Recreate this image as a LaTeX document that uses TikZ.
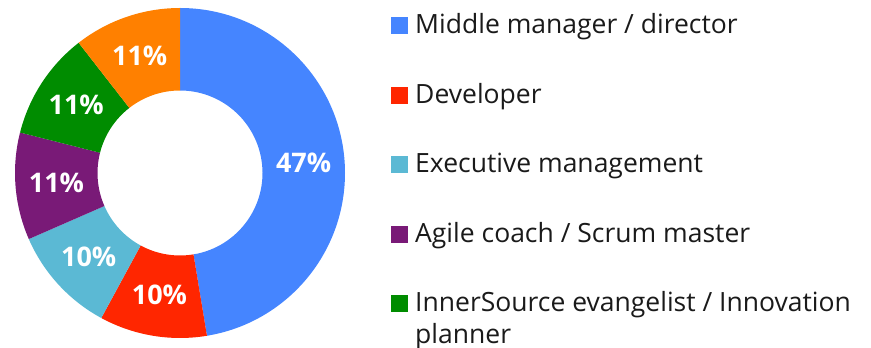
\documentclass[tikz,border=0pt]{standalone}
\usepackage{fontspec}
\setmainfont{Open Sans}
\definecolor{cblue}{HTML}{4585FF}
\definecolor{cred}{HTML}{FF2600}
\definecolor{ccyan}{HTML}{5BB9D4}
\definecolor{cpurple}{HTML}{791A77}
\definecolor{cgreen}{HTML}{008C00}
\definecolor{corange}{HTML}{FF8000}
\definecolor{ctext}{HTML}{1A1A1A}
\begin{document}
\begin{tikzpicture}[x=1pt,y=1pt,
  pct/.style={text=white,font=\fontsize{27}{30}\selectfont\bfseries,inner sep=0pt},
  legsq/.style={minimum size=17pt,inner sep=0pt,anchor=north west},
  legtext/.style={text=ctext,font=\fontsize{26.5}{32}\selectfont,inner sep=0pt,anchor=base west,align=left}]
\useasboundingbox (0,0) rectangle (871,348);
\def\RR{165}
\def\rr{82.5}
\newcommand\slice[3]{%
  \fill[#3] (#1:\RR) arc[start angle=#1,end angle=#2,radius=\RR] -- (#2:\rr) arc[start angle=#2,end angle=#1,radius=\rr] -- cycle;}
\begin{scope}[shift={(180,175)}]
  \coordinate (c) at (0,0);
  \slice{90}{-80.6}{cblue}
  \slice{-80.6}{-118.5}{cred}
  \slice{-118.5}{-156.4}{ccyan}
  \slice{-156.4}{-194.2}{cpurple}
  \slice{-194.2}{-232.1}{cgreen}
  \slice{-232.1}{-270}{corange}
  \node[pct] (p1) at (4.7:124) {47\%};
  \node[pct] (p2) at (-99.55:124) {10\%};
  \node[pct] (p3) at (-137.45:124) {10\%};
  \node[pct] (p4) at (-175.3:124) {11\%};
  \node[pct] (p5) at (-213.15:124) {11\%};
  \node[pct] (p6) at (-251.05:124) {11\%};
\end{scope}
\node[legsq,fill=cblue] (s1) at (391,348-17.3) {};
\node[legsq,fill=cred] (s2) at (391,348-87.3) {};
\node[legsq,fill=ccyan] (s3) at (391,348-156) {};
\node[legsq,fill=cpurple] (s4) at (391,348-226) {};
\node[legsq,fill=cgreen] (s5) at (391,348-295) {};
\node[legtext] (t1) at (415,348-33.3) {Middle manager / director};
\node[legtext] (t2) at (415,348-103.3) {Developer};
\node[legtext] (t3) at (415,348-172.7) {Executive management};
\node[legtext] (t4) at (415,348-242.3) {Agile coach / Scrum master};
\node[legtext] (t5) at (415,348-311.7) {InnerSource evangelist / Innovation};
\node[legtext] (t6) at (415,348-344) {planner};
\end{tikzpicture}
\end{document}
